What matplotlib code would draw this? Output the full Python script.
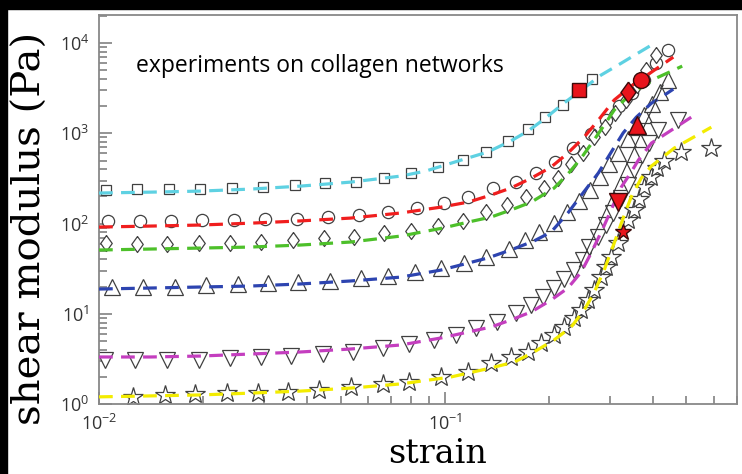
import matplotlib
matplotlib.use('Agg')
import matplotlib.pyplot as plt
from matplotlib.patches import Rectangle
from matplotlib.ticker import LogLocator, NullFormatter

# ── data (strain, shear modulus in Pa) ────────────────────────────────
sq_strain = [0.0105, 0.0129, 0.0159, 0.0196, 0.0243, 0.0299, 0.0368, 0.0449, 0.0552, 0.0666,
             0.0797, 0.0954, 0.113, 0.132, 0.152, 0.174, 0.195, 0.220, 0.241, 0.267]
sq_G = [235, 241, 241, 241, 247, 254, 267, 281, 288, 319,
        363, 423, 505, 620, 821, 1114, 1514, 2056, 2940, 3990]

ci_strain = [0.0106, 0.0131, 0.0162, 0.0199, 0.0245, 0.0303, 0.0375, 0.0458, 0.0563, 0.0684,
             0.0830, 0.0993, 0.117, 0.138, 0.161, 0.184, 0.208, 0.235, 0.265, 0.293,
             0.319, 0.348, 0.377, 0.409, 0.443]
ci_G = [107, 107, 107, 109, 109, 112, 112, 118, 124, 134,
        149, 169, 197, 247, 288, 363, 480, 686, 981, 1400,
        2000, 2790, 3890, 6000, 8360]

di_strain = [0.0105, 0.0129, 0.0157, 0.0194, 0.0240, 0.0295, 0.0363, 0.0446, 0.0545, 0.0666,
             0.0797, 0.0954, 0.113, 0.132, 0.151, 0.172, 0.194, 0.213, 0.232, 0.251,
             0.270, 0.291, 0.311, 0.335, 0.360, 0.382, 0.409]
di_G = [60.8, 59.3, 59.3, 60.8, 60.8, 62.4, 65.6, 69.1, 70.9, 78.5,
        82.6, 93.8, 107, 134, 160, 197, 247, 319, 456, 604,
        909, 1170, 1680, 2340, 3420, 5020, 7360]

tu_strain = [0.0109, 0.0134, 0.0166, 0.0204, 0.0253, 0.0309, 0.0377, 0.0467, 0.0571, 0.0684,
             0.0818, 0.0974, 0.114, 0.132, 0.153, 0.171, 0.187, 0.207, 0.226, 0.245,
             0.263, 0.281, 0.299, 0.317, 0.339, 0.360, 0.377, 0.398, 0.420, 0.443]
tu_G = [19.8, 19.8, 19.8, 20.8, 21.4, 21.9, 22.5, 23.1, 24.9, 26.2,
        29.0, 32.1, 36.5, 42.6, 52.2, 65.6, 80.5, 101, 134, 178,
        235, 328, 456, 604, 864, 1170, 1590, 2110, 2860, 3890]

td_strain = [0.0104, 0.0127, 0.0157, 0.0194, 0.0240, 0.0295, 0.0360, 0.0443, 0.0541, 0.0661,
             0.0786, 0.0929, 0.108, 0.123, 0.142, 0.161, 0.178, 0.192, 0.207, 0.221,
             0.237, 0.251, 0.262, 0.278, 0.293, 0.307, 0.324, 0.339, 0.353, 0.372,
             0.390, 0.414, 0.474]
td_G = [3.07, 3.07, 3.07, 3.07, 3.23, 3.32, 3.40, 3.58, 3.77, 4.17,
        4.62, 5.12, 5.82, 6.95, 8.10, 10.2, 12.5, 15.3, 19.3, 24.3,
        30.5, 39.4, 54.9, 70.9, 96.3, 131, 192, 267, 392, 574,
        780, 1090, 1400]

st_strain = [0.0125, 0.0155, 0.0190, 0.0235, 0.0289, 0.0353, 0.0434, 0.0534, 0.0661, 0.0786,
             0.0974, 0.117, 0.136, 0.155, 0.174, 0.190, 0.207, 0.221, 0.237, 0.248,
             0.260, 0.270, 0.283, 0.293, 0.303, 0.317, 0.339, 0.353, 0.365, 0.377,
             0.396, 0.412, 0.431, 0.483, 0.590]
st_G = [1.20, 1.26, 1.29, 1.32, 1.32, 1.36, 1.43, 1.54, 1.67, 1.75,
        1.99, 2.26, 2.85, 3.32, 3.77, 4.74, 5.82, 7.13, 8.97, 11.0,
        14.2, 18.3, 25.5, 33.0, 42.6, 60.8, 109, 141, 187, 254,
        328, 412, 493, 620, 687]

# model fits (dashed curves)
cyan_x = [0.0100, 0.0141, 0.0196, 0.0274, 0.0382, 0.0534, 0.0746, 0.0881, 0.114, 0.133,
          0.155, 0.174, 0.194, 0.221, 0.248, 0.283, 0.324, 0.401]
cyan_y = [218, 223, 229, 241, 260, 288, 336, 382, 519, 620,
          821, 1060, 1440, 2160, 3010, 4420, 6000, 9800]

red_x = [0.0100, 0.0141, 0.0196, 0.0274, 0.0382, 0.0534, 0.0746, 0.0974, 0.117, 0.136,
         0.155, 0.178, 0.203, 0.227, 0.253, 0.278, 0.309, 0.346, 0.396, 0.458]
red_y = [91.5, 93.8, 96.3, 101, 107, 115, 131, 152, 173, 207,
         247, 319, 423, 604, 909, 1400, 2340, 3340, 4770, 7000]

green_x = [0.0100, 0.0141, 0.0196, 0.0274, 0.0382, 0.0534, 0.0746, 0.0987, 0.117, 0.136,
           0.155, 0.178, 0.207, 0.227, 0.248, 0.270, 0.289, 0.309, 0.335, 0.370,
           0.409, 0.446, 0.486]
green_y = [50.9, 52.2, 53.5, 54.9, 57.8, 62.4, 72.7, 89.2, 104, 118,
           141, 173, 247, 354, 532, 842, 1230, 1810, 2460, 3250,
           4100, 4770, 5560]

blue_x = [0.0100, 0.0141, 0.0196, 0.0274, 0.0382, 0.0534, 0.0746, 0.0974, 0.114, 0.133,
          0.155, 0.181, 0.203, 0.227, 0.251, 0.278, 0.303, 0.328, 0.358, 0.396,
          0.423, 0.458]
blue_y = [18.8, 19.3, 19.8, 20.3, 21.4, 23.1, 25.5, 30.5, 35.6, 41.5,
          50.9, 64.0, 80.5, 131, 218, 363, 620, 1010, 1510, 2160,
          2520, 3090]

mag_x = [0.0100, 0.0141, 0.0196, 0.0274, 0.0382, 0.0534, 0.0746, 0.0974, 0.136, 0.155,
         0.178, 0.203, 0.227, 0.248, 0.265, 0.287, 0.307, 0.324, 0.346, 0.363,
         0.396, 0.443, 0.516]
mag_y = [3.32, 3.32, 3.40, 3.58, 3.77, 4.07, 4.51, 5.39, 7.13, 8.52,
         10.5, 14.2, 19.3, 29.0, 47.1, 89.2, 160, 254, 372, 505,
         780, 1030, 1510]

yel_x = [0.0100, 0.0141, 0.0196, 0.0274, 0.0382, 0.0534, 0.0746, 0.104, 0.136, 0.159,
         0.181, 0.207, 0.232, 0.253, 0.270, 0.289, 0.309, 0.328, 0.346, 0.370,
         0.396, 0.461, 0.590]
yel_y = [1.20, 1.23, 1.26, 1.32, 1.39, 1.50, 1.67, 1.99, 2.51, 2.92,
         3.77, 5.12, 7.13, 11.0, 17.0, 30.5, 60.8, 115, 197, 319,
         434, 687, 1170]

# critical points (filled red)
crit_strain = [0.245, 0.370, 0.339, 0.360, 0.317, 0.328]
crit_G = [3010, 3890, 2860, 1230, 173, 80.5]

# thin guide line
guide_x = [0.245, 0.428]
guide_y = [33.0, 3420]

DIAMOND = [(0, 1), (0.72, 0), (0, -1), (-0.72, 0), (0, 1)]

sets = [
    (sq_strain, sq_G, 's', 7.2, cyan_x, cyan_y, '#5ed1e2', 9.5),
    (ci_strain, ci_G, 'o', 8.8, red_x, red_y, '#f01e1e', 11.5),
    (di_strain, di_G, DIAMOND, 11.5, green_x, green_y, '#4dc02a', 15),
    (tu_strain, tu_G, '^', 11, blue_x, blue_y, '#2d44b0', 13.5),
    (td_strain, td_G, 'v', 11, mag_x, mag_y, '#c43ebf', 13.5),
    (st_strain, st_G, '*', 15, yel_x, yel_y, '#f3ec00', 12),
]

plt.rcParams['font.family'] = 'Open Sans'
plt.rcParams['mathtext.fontset'] = 'custom'
plt.rcParams['mathtext.rm'] = 'Open Sans'
plt.rcParams['mathtext.it'] = 'Open Sans'

fig = plt.figure(figsize=(7.42, 4.74), dpi=100)
ax = fig.add_axes([99 / 742, 1 - 404 / 474, (737 - 99) / 742, (404 - 15) / 474])

for i, (sx, sy, mk, ms, fx, fy, col, cms) in enumerate(sets):
    ax.plot(sx, sy, linestyle='none', marker=mk, ms=ms, mfc='white', mec='#404040',
            mew=0.9, zorder=2)
    ax.plot(fx, fy, color=col, lw=2.3, dashes=(4.3, 2.6), zorder=3)
    ax.plot(crit_strain[i], crit_G[i], marker=mk, ms=cms, mfc='#e8141c',
            mec='#3a0a0a', mew=1.0, linestyle='none', zorder=5)

ax.plot(guide_x, guide_y, color='#333333', lw=0.8, zorder=4)

ax.set_xscale('log')
ax.set_yscale('log')
ax.set_xlim(0.01, 0.7)
ax.set_ylim(1, 2.05e4)

ax.xaxis.set_major_locator(LogLocator(base=10, numticks=10))
ax.yaxis.set_major_locator(LogLocator(base=10, numticks=10))
ax.xaxis.set_minor_locator(LogLocator(base=10, subs=range(2, 10), numticks=20))
ax.yaxis.set_minor_locator(LogLocator(base=10, subs=range(2, 10), numticks=20))
ax.xaxis.set_minor_formatter(NullFormatter())
ax.yaxis.set_minor_formatter(NullFormatter())

for s in ax.spines.values():
    s.set_color('#888888')
    s.set_linewidth(1.3)
ax.tick_params(which='both', direction='in', color='#777777', width=1.1,
               top=False, right=False, labelsize=13, labelcolor='#333333')
ax.tick_params(which='major', length=9, pad=7)
ax.tick_params(which='minor', length=5.5)

ax.text(136, 72, 'experiments on collagen networks', fontsize=16.5, color='black',
        transform=None)
ax.texts[-1].set_transform(fig.dpi_scale_trans)
ax.texts[-1].set_position((136 / 100, (474 - 72) / 100))

fig.text(438 / 742, 1 - 463 / 474, 'strain', family='DejaVu Serif', fontsize=24,
         ha='center', va='baseline')
fig.text(30 / 742, 1 - 228 / 474, 'shear modulus (Pa)', family='DejaVu Serif',
         fontsize=29, rotation=90, ha='center', va='center')

# black frame strips of the screenshot
fig.add_artist(Rectangle((0, 1 - 9 / 474), 1, 9 / 474, transform=fig.transFigure,
                         color='black', zorder=10))
fig.add_artist(Rectangle((0, 0), 7 / 742, 1, transform=fig.transFigure,
                         color='black', zorder=10))

fig.savefig('out.png', dpi=100)
